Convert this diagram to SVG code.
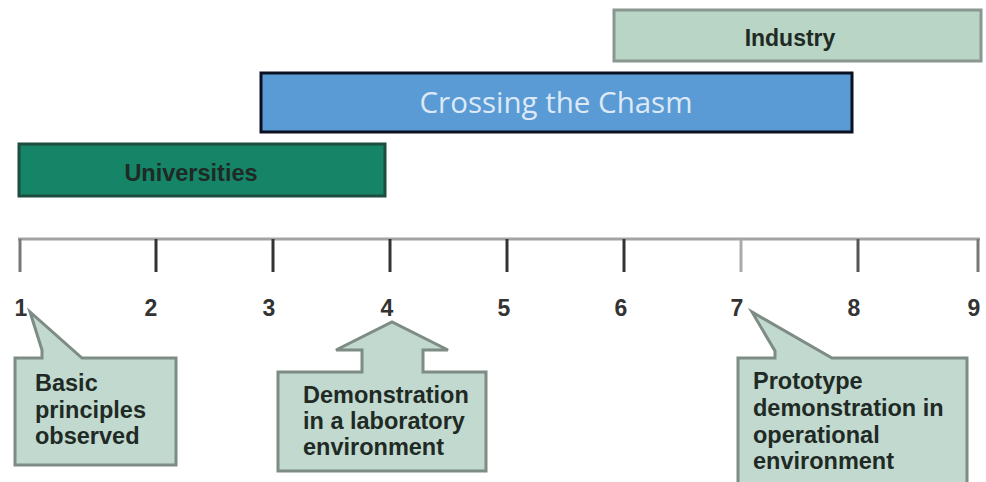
<svg xmlns="http://www.w3.org/2000/svg" width="986" height="482" viewBox="0 0 986 482">
<style>
.lbl{font-family:"Liberation Sans",Arial,sans-serif;font-weight:bold;fill:#1f2a25}
.num{font-family:"Liberation Sans",Arial,sans-serif;font-weight:bold;font-size:23px;fill:#333;text-anchor:middle}
.call{fill:#c1d9ce;stroke:#7d8c84;stroke-width:3;stroke-linejoin:miter}
.tick{stroke:#333;stroke-width:3}
</style>
<rect width="986" height="482" fill="#ffffff"/>
<g id="industry">
<rect x="614" y="10" width="367" height="51" fill="#b9d5c6" stroke="#8a9790" stroke-width="3"/>
<text class="lbl" x="790" y="46" font-size="23" text-anchor="middle">Industry</text>
</g>
<g id="chasm">
<rect x="261" y="73" width="591" height="59" fill="#5b9bd5" stroke="#0b1020" stroke-width="3"/>
<text x="556" y="113" font-family="'Open Sans','Noto Sans',sans-serif" font-size="29.5" fill="#dde9f7" text-anchor="middle">Crossing the Chasm</text>
</g>
<g id="universities">
<rect x="19" y="144" width="366" height="52" fill="#158467" stroke="#1d4d3e" stroke-width="3"/>
<text class="lbl" x="191" y="181" font-size="23.5" text-anchor="middle">Universities</text>
</g>
<g id="axis">
<line x1="18" y1="239" x2="980" y2="239" stroke="#a3a3a3" stroke-width="3"/>
<line class="tick" x1="20" y1="239" x2="20" y2="272" style="stroke:#777"/>
<line class="tick" x1="156" y1="239" x2="156" y2="272"/>
<line class="tick" x1="273" y1="239" x2="273" y2="272"/>
<line class="tick" x1="390" y1="239" x2="390" y2="272"/>
<line class="tick" x1="507" y1="239" x2="507" y2="272"/>
<line class="tick" x1="624" y1="239" x2="624" y2="272"/>
<line class="tick" x1="741" y1="239" x2="741" y2="272" style="stroke:#aaa"/>
<line class="tick" x1="858" y1="239" x2="858" y2="272" style="stroke:#555"/>
<line class="tick" x1="978" y1="239" x2="978" y2="272" style="stroke:#777"/>
<text class="num" x="21" y="316">1</text>
<text class="num" x="151" y="316">2</text>
<text class="num" x="269" y="316">3</text>
<text class="num" x="387" y="316">4</text>
<text class="num" x="504" y="316">5</text>
<text class="num" x="621" y="316">6</text>
<text class="num" x="737" y="316">7</text>
<text class="num" x="854" y="316">8</text>
<text class="num" x="974" y="316">9</text>
</g>
<g id="callout1">
<path class="call" d="M15,358 H42 V350 L30,312 L82,358 H176 V465 H15 Z"/>
<text class="lbl" font-size="23.5"><tspan x="35" y="391">Basic</tspan><tspan x="35" y="418">principles</tspan><tspan x="35" y="444">observed</tspan></text>
</g>
<g id="callout4">
<path class="call" d="M278,372 H362 V350 H336 L392,322 L448,350 H423 V372 H486 V471 H278 Z"/>
<text class="lbl" font-size="23.5"><tspan x="303" y="403">Demonstration</tspan><tspan x="303" y="429">in a laboratory</tspan><tspan x="303" y="455">environment</tspan></text>
</g>
<g id="callout7">
<path class="call" d="M738,358 H775 V351 L752,312 L832,358 H967 V490 H738 Z"/>
<text class="lbl" font-size="23.5"><tspan x="753" y="389">Prototype</tspan><tspan x="753" y="416">demonstration in</tspan><tspan x="753" y="443">operational</tspan><tspan x="753" y="469">environment</tspan></text>
</g>
</svg>
